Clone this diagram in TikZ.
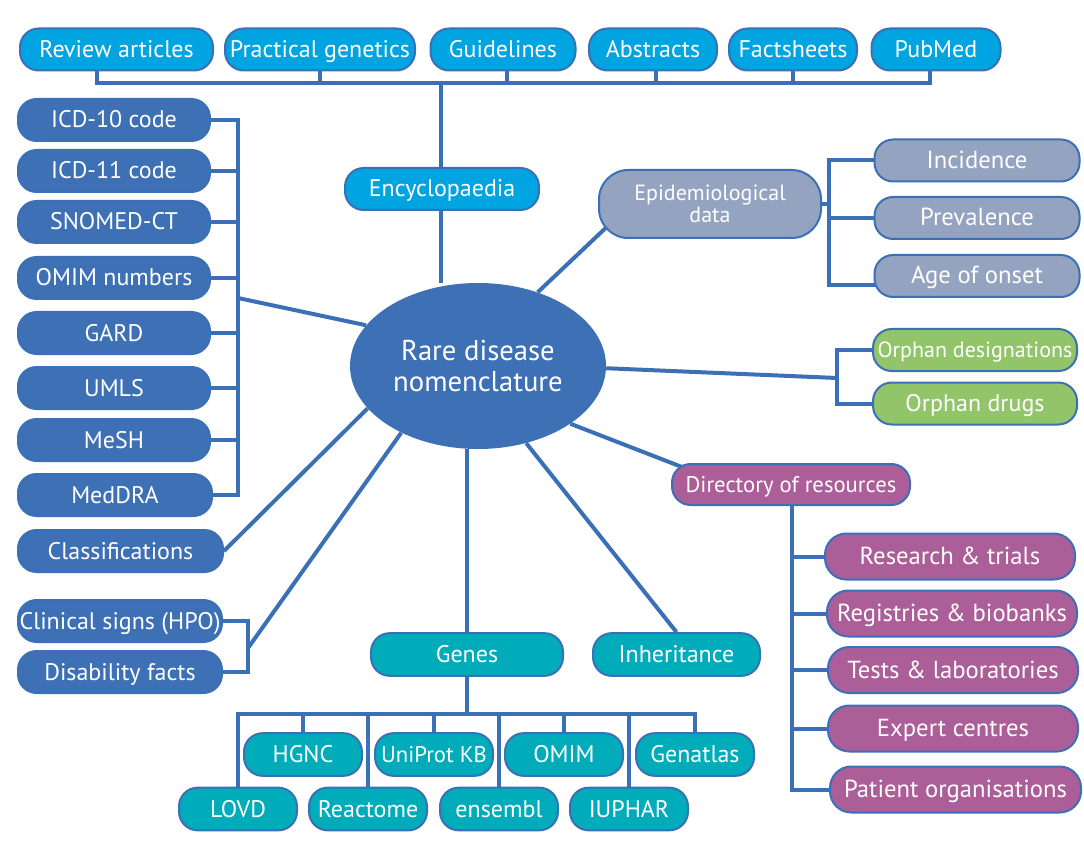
\documentclass[tikz,border=0pt]{standalone}
\usepackage{fontspec}
\setmainfont{PT Sans}
\usetikzlibrary{backgrounds,shapes.geometric}
\definecolor{lineC}{RGB}{60,112,182}
\definecolor{topC}{RGB}{0,164,224}
\definecolor{dkC}{RGB}{61,112,180}
\definecolor{epiC}{RGB}{148,163,191}
\definecolor{grnC}{RGB}{146,196,106}
\definecolor{purC}{RGB}{172,94,152}
\definecolor{tealC}{RGB}{0,172,186}
\tikzset{
  bx/.style={draw=lineC, line width=1.5pt, rounded corners=14pt, text=white, inner sep=0pt,
    minimum height=31.5pt, font=\fontsize{18}{20}\selectfont, text height=14.5pt, text depth=2.5pt},
  bw/.style={minimum width=#1*0.75pt},
  bh/.style={minimum height=#1*0.75pt},
  topbox/.style={bx, fill=topC},
  dkbox/.style={bx, fill=dkC},
  epibox/.style={bx, fill=epiC},
  grnbox/.style={bx, fill=grnC},
  purbox/.style={bx, fill=purC, minimum height=34.5pt, rounded corners=16pt, font=\fontsize{18.5}{20}\selectfont},
  tealbox/.style={bx, fill=tealC, minimum height=32pt},
  conn/.style={draw=lineC, line width=3pt},
}
\begin{document}
\begin{tikzpicture}[x=0.75pt,y=-0.75pt]
\useasboundingbox (0,0) rectangle (1084,841);
% top row
\node[topbox,bw=193] (rev)  at (116.5,49.5) {Review articles};
\node[topbox,bw=190] (prac) at (320,49.5) {Practical genetics};
\node[topbox,bw=145] (guid) at (503,49.5) {Guidelines};
\node[topbox,bw=128] (abst) at (653,49.5) {Abstracts};
\node[topbox,bw=128] (fact) at (793,49.5) {Factsheets};
\node[topbox,bw=129] (pub)  at (936,49.5) {PubMed};
\node[topbox,bw=194] (enc)  at (442,189) {Encyclopaedia};
% centre
\node[ellipse, fill=dkC, minimum width=256*0.75pt, minimum height=166*0.75pt, inner sep=0pt,
  text=white, font=\fontsize{21.5}{23}\selectfont, align=center] (ell) at (478,366)
  {Rare disease\\nomenclature};
% left column
\node[dkbox,bw=192] (icd10)  at (114,120) {ICD-10 code};
\node[dkbox,bw=192] (icd11)  at (114,171) {ICD-11 code};
\node[dkbox,bw=192] (snomed) at (114,222) {SNOMED-CT};
\node[dkbox,bw=192] (omim)   at (114,278) {OMIM numbers};
\node[dkbox,bw=192] (gard)   at (114,333) {GARD};
\node[dkbox,bw=192] (umls)   at (114,388) {UMLS};
\node[dkbox,bw=192] (mesh)   at (114,440) {MeSH};
\node[dkbox,bw=194] (meddra) at (115,495) {MedDRA};
\node[dkbox,bw=205] (cls)    at (120.5,551) {Classifications};
\node[dkbox,bw=204] (clin)   at (120,621) {Clinical signs (HPO)};
\node[dkbox,bw=204] (dis)    at (120,672) {Disability facts};
% epidemiology
\node[epibox,bw=222,bh=68,rounded corners=22pt,font=\fontsize{16.5}{16.5}\selectfont,
  text height=, text depth=, align=center] (epi) at (710,204) {Epidemiological\\data};
\node[epibox,bw=205,font=\fontsize{18.5}{20}\selectfont] (inc)  at (977,160.5) {Incidence};
\node[epibox,bw=205,font=\fontsize{18.5}{20}\selectfont] (prev) at (977,218) {Prevalence};
\node[epibox,bw=205,font=\fontsize{18.5}{20}\selectfont] (age)  at (977,276) {Age of onset};
% orphan
\node[grnbox,bw=204,font=\fontsize{16.5}{18}\selectfont] (od)  at (975,350) {Orphan designations};
\node[grnbox,bw=204] (odr) at (975,403.5) {Orphan drugs};
% directory
\node[purbox,bw=238,bh=41,rounded corners=14pt,font=\fontsize{17}{19}\selectfont] (dir) at (791,484.5) {Directory of resources};
\node[purbox,bw=250] (res)   at (950,556.5) {Research \& trials};
\node[purbox,bw=250] (reg)   at (952,613.5) {Registries \& biobanks};
\node[purbox,bw=250] (tests) at (953,670) {Tests \& laboratories};
\node[purbox,bw=250] (exp)   at (953,728.5) {Expert centres};
\node[purbox,bw=251] (pat)   at (955.5,789.5) {Patient organisations};
% genes
\node[tealbox,bw=192] (genes) at (467,654.5) {Genes};
\node[tealbox,bw=167] (inh)   at (676.5,654.5) {Inheritance};
\node[tealbox,bw=118] (hgnc)  at (303,754.5) {HGNC};
\node[tealbox,bw=118,font=\fontsize{17}{19}\selectfont] (uni)   at (434,754.5) {UniProt KB};
\node[tealbox,bw=118] (omg)   at (564,754.5) {OMIM};
\node[tealbox,bw=118] (genat) at (695,754.5) {Genatlas};
\node[tealbox,bw=118] (lovd)  at (238,809) {LOVD};
\node[tealbox,bw=118] (react) at (368,809) {Reactome};
\node[tealbox,bw=118] (ens)   at (499,809) {ensembl};
\node[tealbox,bw=118] (iup)   at (629,809) {IUPHAR};
% helper coordinates
\coordinate (topbar) at (0,83);
\coordinate (lbx) at (238,0);
\coordinate (lbj) at (238,298);
\coordinate (cbx) at (248,0);
\coordinate (cbj) at (248,648);
\coordinate (epiIn) at (612,222);
\coordinate (ebx) at (829,0);
\coordinate (ageStub) at (880,285);
\coordinate (obx) at (837,0);
\coordinate (obj) at (837,378);
\coordinate (dirIn) at (700,474);
\coordinate (dbx) at (792,0);
\coordinate (gbar) at (0,714);
\begin{scope}[on background layer]
\fill[white] (0,0) rectangle (1084,841);
% top bracket
\draw[conn] ([xshift=-15pt]rev.south) -- ([xshift=-15pt]rev.south |- topbar) -| ([xshift=-4.5pt]pub.south);
\draw[conn] (prac.south) -- (prac.south |- topbar);
\draw[conn] ([xshift=3pt]guid.south) -- ([xshift=3pt]guid.south |- topbar);
\draw[conn] ([xshift=2pt]abst.south) -- ([xshift=2pt]abst.south |- topbar);
\draw[conn] (fact.south) -- (fact.south |- topbar);
\draw[conn] ([xshift=-0.75pt]enc.north |- topbar) -- ([xshift=-0.75pt]enc.north);
\draw[conn] ([xshift=-0.75pt]enc.south) -- ([xshift=-0.75pt]enc.south |- ell.north);
% left bracket
\draw[conn] (icd10.east) -| (lbx |- meddra.east) -- (meddra.east);
\foreach \n in {icd11,snomed,omim,gard,umls,mesh}
  \draw[conn] (\n.east) -- (\n.east -| lbx);
\draw[conn] (lbj) -- (ell.160);
\draw[conn] (cls.east) -- (ell.201);
\draw[conn] (clin.east) -| (cbx |- dis.east) -- (dis.east);
\draw[conn] (cbj) -- (ell.221);
% epidemiology
\draw[conn] (ell.51) -- (epiIn);
\draw[conn] (inc.west) -| (ebx |- ageStub) -- (ageStub);
\draw[conn] (prev.west) -- (prev.west -| ebx);
\draw[conn] (epi.east) -- (epi.east -| ebx);
% orphan
\draw[conn] (od.west) -| (obx |- odr.west) -- (odr.west);
\draw[conn] (ell.359) -- (obj);
% directory
\draw[conn] (ell.328) -- (dirIn);
\draw[conn] (dir.south -| dbx) |- (pat.west);
\foreach \n in {res,reg,tests,exp}
  \draw[conn] (\n.west) -- (\n.west -| dbx);
% genes
\draw[conn] (ell.south -| genes.north) -- (genes.north);
\draw[conn] (ell.302) -- (inh.north);
\draw[conn] (genes.south) -- (genes.south |- gbar);
\draw[conn] (lovd.north) |- (gbar -| genat.north) -- (genat.north);
\foreach \n in {hgnc,uni,omg,react,ens,iup}
  \draw[conn] (\n.north) -- (\n.north |- gbar);
\end{scope}
\end{tikzpicture}
\end{document}
